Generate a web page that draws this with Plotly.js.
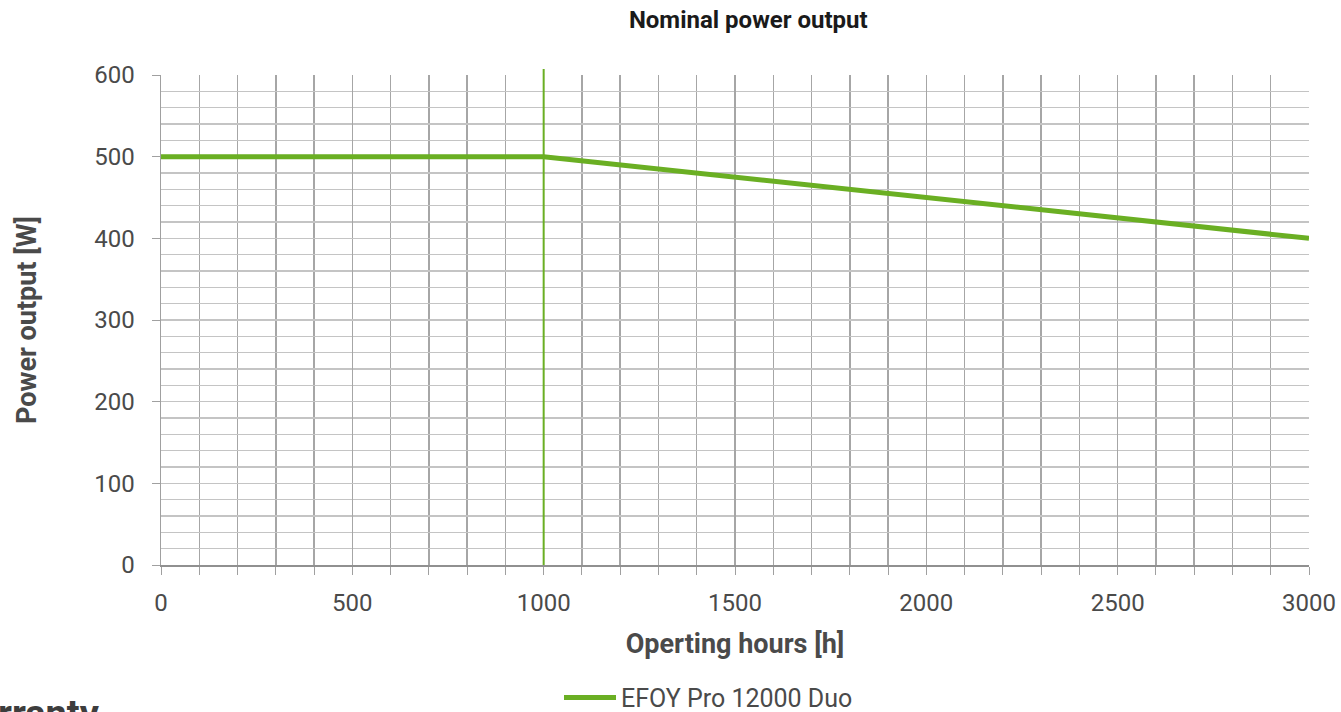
<!DOCTYPE html>
<html><head><meta charset="utf-8">
<script src="https://cdn.plot.ly/plotly-3.0.1.min.js"></script>
<style>html,body{margin:0;padding:0;background:#fff;}#chart{width:1341px;height:712px;}</style>
</head><body><div id="chart"></div>
<script>
const hours = [0, 1000, 3000];
const powerW = [500, 500, 400];
const seriesName = "EFOY Pro 12000 Duo";
const markerHour = 1000;
const xTickVals = [0, 500, 1000, 1500, 2000, 2500, 3000];
const yTickVals = [0, 100, 200, 300, 400, 500, 600];

const green = "#6aaf23";
const txt = "#4a4a4a";
const font = "Roboto, 'DejaVu Sans', sans-serif";

const trace = {
  x: hours, y: powerW, name: seriesName, type: "scatter", mode: "lines",
  line: {color: green, width: 5}, showlegend: true
};

const layout = {
  width: 1341, height: 712,
  margin: {l: 161, r: 32, t: 75, b: 147, autoexpand: false},
  paper_bgcolor: "#fff", plot_bgcolor: "#fff",
  font: {family: font, color: txt, size: 20},
  title: {text: "<b>Nominal power output</b>", font: {size: 24, color: "#1a1a1a"}, x: 0.558, xanchor: "center", y: 0.972, yanchor: "middle"},
  xaxis: {
    range: [0, 3000], tickvals: xTickVals, ticks: "outside", ticklen: 8, tickcolor: "#a0a0a0",
    showgrid: true, gridcolor: "#a6a6a6", gridwidth: 1.5, zeroline: false,
    showline: true, linecolor: "#909090", linewidth: 1.5,
    ticklabelstandoff: 8,
    minor: {dtick: 100, showgrid: true, gridcolor: "#a6a6a6", gridwidth: 1.5, ticks: "outside", ticklen: 8, tickcolor: "#a0a0a0"},
    title: {text: "<b>Operting hours [h]</b>", font: {size: 27, color: txt}, standoff: 18},
    tickfont: {size: 24, color: txt}
  },
  yaxis: {
    range: [0, 600], tickvals: yTickVals, ticks: "outside", ticklen: 8, tickcolor: "#a0a0a0",
    showgrid: true, gridcolor: "#c4c4c4", gridwidth: 1.5, zeroline: false,
    showline: true, linecolor: "#a0a0a0", linewidth: 1.5,
    ticklabelstandoff: 12,
    minor: {dtick: 20, showgrid: true, gridcolor: "#c4c4c4", gridwidth: 1.5, ticks: ""},
    title: {text: "<b>Power output [W]</b>", font: {size: 27, color: txt}, standoff: 50},
    tickfont: {size: 24, color: txt}
  },
  showlegend: true,
  legend: {orientation: "h", x: 0.3467, xanchor: "left", y: -0.271, yanchor: "middle",
           font: {size: 25, color: txt}, itemwidth: 52},
  shapes: [{type: "line", xref: "x", yref: "paper", x0: markerHour, x1: markerHour, y0: 0, y1: 1.012,
            line: {color: green, width: 2}}],
  annotations: [{text: "<b>Warranty</b>", xref: "paper", yref: "paper", x: -0.19, y: -0.255,
                 xanchor: "left", yanchor: "top", showarrow: false,
                 font: {size: 38, color: "#3d3d3d"}}]
};

Plotly.newPlot("chart", [trace], layout, {displayModeBar: false, staticPlot: true});
</script></body></html>
